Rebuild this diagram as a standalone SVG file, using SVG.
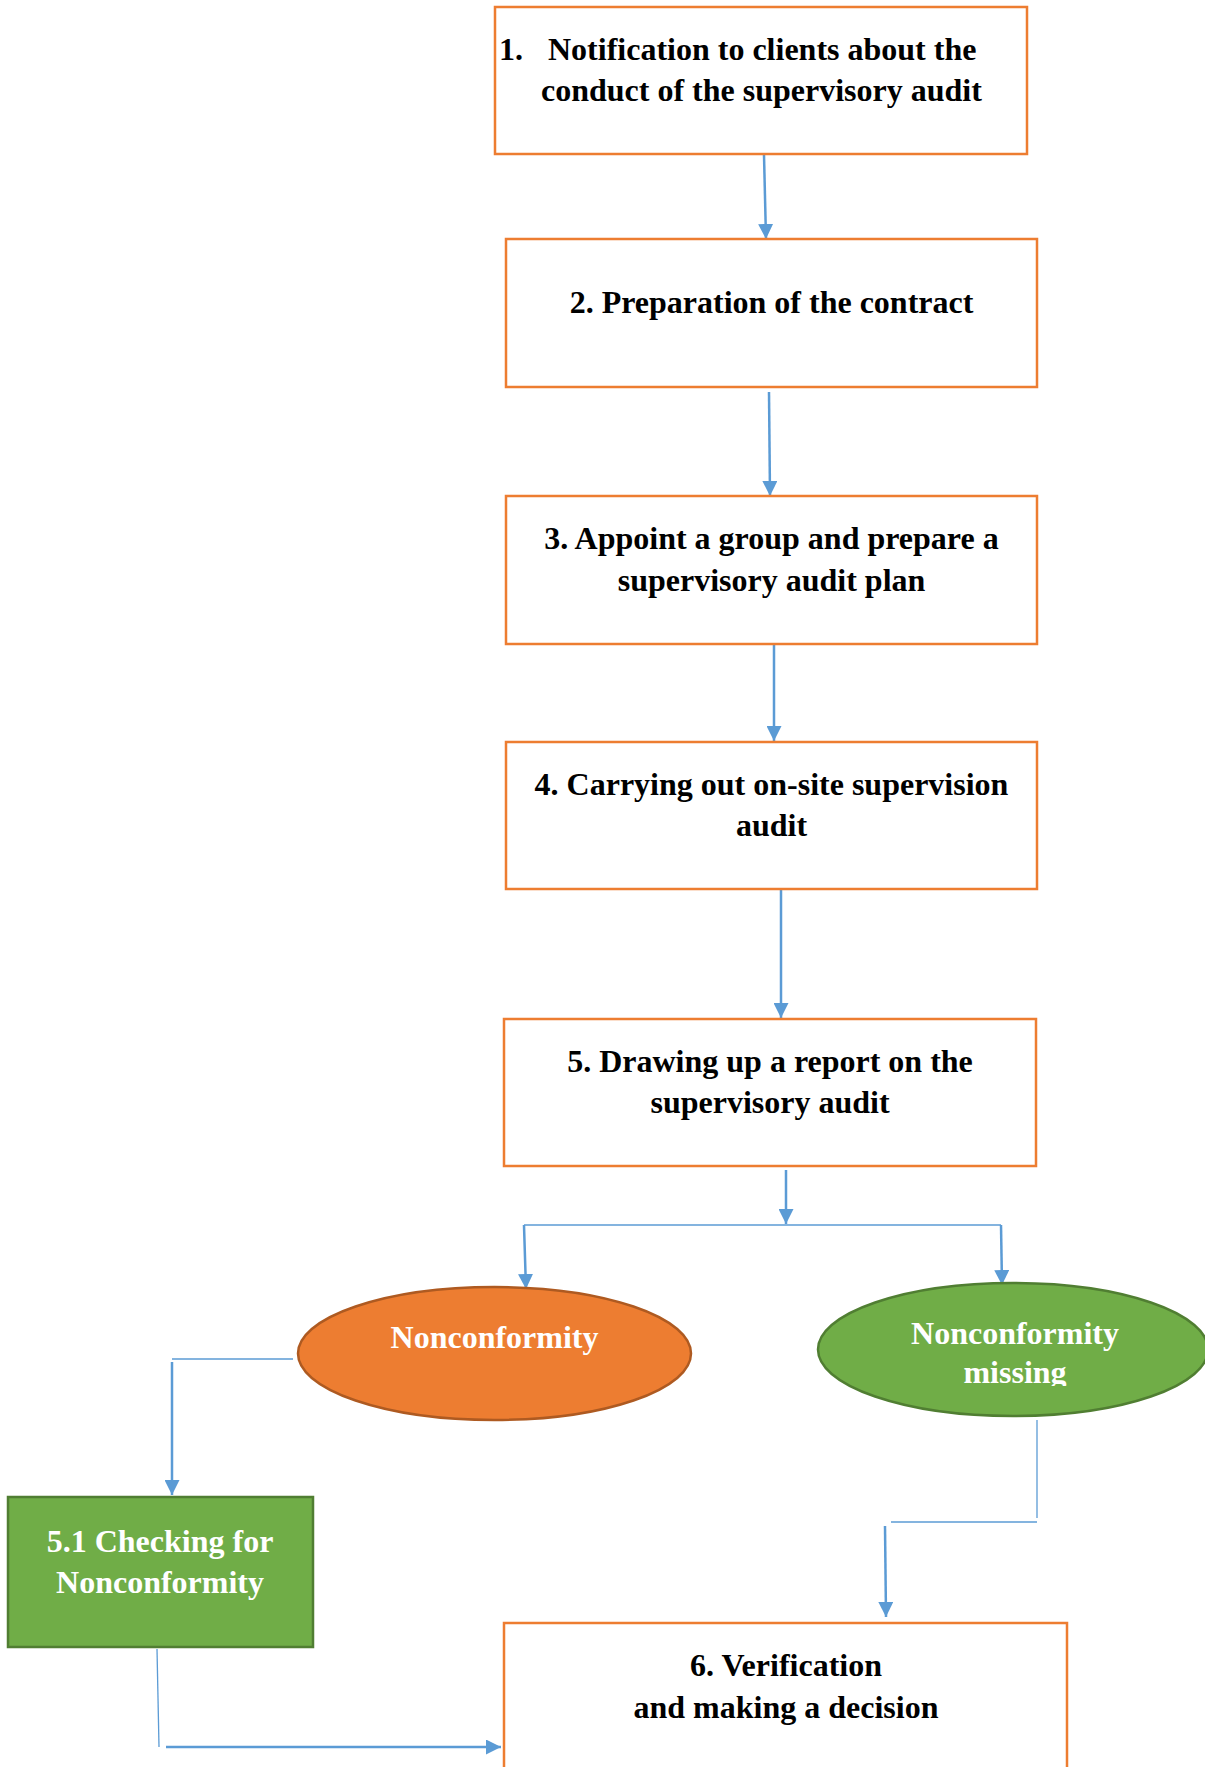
<svg xmlns="http://www.w3.org/2000/svg" width="1205" height="1767" viewBox="0 0 1205 1767">
<style>
.box{fill:#FFFFFF;stroke:#ED7D31;stroke-width:2.5}
.gbox{fill:#70AD47;stroke:#507E32;stroke-width:2.5}
.t{font-family:"Liberation Serif","Times New Roman",serif;font-weight:bold;font-size:32px;fill:#000000}
.w{font-family:"Liberation Serif","Times New Roman",serif;font-weight:bold;font-size:32px;fill:#FFFFFF}
.c{text-anchor:middle}
.a{fill:none;stroke:#5B9BD5;stroke-width:2.5}
.l{fill:none;stroke:#5B9BD5;stroke-width:1.3}
</style>
<defs>
<marker id="ah" viewBox="0 0 15 15" refX="15" refY="7.5" markerWidth="15" markerHeight="15" markerUnits="userSpaceOnUse" orient="auto">
<path d="M0,0 L15,7.5 L0,15 z" fill="#5B9BD5"/>
</marker>
<clipPath id="clipMissing"><rect x="800" y="1290" width="420" height="96"/></clipPath>
</defs>
<rect width="1205" height="1767" fill="#FFFFFF"/>
<g id="connectors">
<line class="a" x1="764" y1="155" x2="766" y2="239" marker-end="url(#ah)"/>
<line class="a" x1="769" y1="392" x2="770" y2="496" marker-end="url(#ah)"/>
<line class="a" x1="774" y1="641" x2="774" y2="741" marker-end="url(#ah)"/>
<line class="a" x1="781" y1="889" x2="781" y2="1018" marker-end="url(#ah)"/>
<line class="a" x1="786" y1="1170" x2="786" y2="1224" marker-end="url(#ah)"/>
<line class="l" x1="524" y1="1225" x2="1001" y2="1225" stroke-width="1.8"/>
<line class="a" x1="524" y1="1225" x2="526" y2="1289" marker-end="url(#ah)"/>
<line class="a" x1="1001" y1="1225" x2="1002" y2="1285" marker-end="url(#ah)"/>
<line class="l" x1="172" y1="1359" x2="293" y2="1359"/>
<line class="a" x1="172" y1="1362" x2="172" y2="1495" marker-end="url(#ah)"/>
<line class="l" x1="157" y1="1649" x2="159" y2="1747"/>
<line class="a" x1="166" y1="1747" x2="501" y2="1747" marker-end="url(#ah)"/>
<line class="l" x1="1037" y1="1420" x2="1037" y2="1518"/>
<line class="l" x1="891" y1="1522" x2="1037" y2="1522"/>
<line class="a" x1="885" y1="1526" x2="886" y2="1617" marker-end="url(#ah)"/>
</g>
<g id="node1">
<rect class="box" x="495" y="7" width="532" height="147"/>
<text class="t" x="499" y="60">1.</text>
<text class="t" x="548" y="60">Notification to clients about the</text>
<text class="t" x="541" y="101">conduct of the supervisory audit</text>
</g>
<g id="node2">
<rect class="box" x="506" y="239" width="531" height="148"/>
<text class="t c" x="771.5" y="313">2. Preparation of the contract</text>
</g>
<g id="node3">
<rect class="box" x="506" y="496" width="531" height="148"/>
<text class="t c" x="771.5" y="549">3. Appoint a group and prepare a</text>
<text class="t c" x="771.5" y="591">supervisory audit plan</text>
</g>
<g id="node4">
<rect class="box" x="506" y="742" width="531" height="147"/>
<text class="t c" x="771.5" y="795">4. Carrying out on-site supervision</text>
<text class="t c" x="771.5" y="836">audit</text>
</g>
<g id="node5">
<rect class="box" x="504" y="1019" width="532" height="147"/>
<text class="t c" x="770" y="1072">5. Drawing up a report on the</text>
<text class="t c" x="770" y="1113">supervisory audit</text>
</g>
<g id="nonconformity">
<ellipse cx="494.5" cy="1353.5" rx="196.5" ry="66.5" fill="#ED7D31" stroke="#AE5A21" stroke-width="2.5"/>
<text class="w c" x="494.5" y="1348">Nonconformity</text>
</g>
<g id="nonconformity-missing">
<ellipse cx="1013" cy="1349.5" rx="195" ry="66.5" fill="#70AD47" stroke="#507E32" stroke-width="2.5"/>
<text class="w c" x="1015" y="1344">Nonconformity</text>
<text class="w c" x="1015" y="1383" clip-path="url(#clipMissing)">missing</text>
</g>
<g id="node5-1">
<rect class="gbox" x="8" y="1497" width="305" height="150"/>
<text class="w c" x="160" y="1552">5.1 Checking for</text>
<text class="w c" x="160" y="1593">Nonconformity</text>
</g>
<g id="node6">
<rect class="box" x="504" y="1623" width="563" height="160"/>
<text class="t c" x="786" y="1676">6. Verification</text>
<text class="t c" x="786" y="1718">and making a decision</text>
</g>
</svg>
